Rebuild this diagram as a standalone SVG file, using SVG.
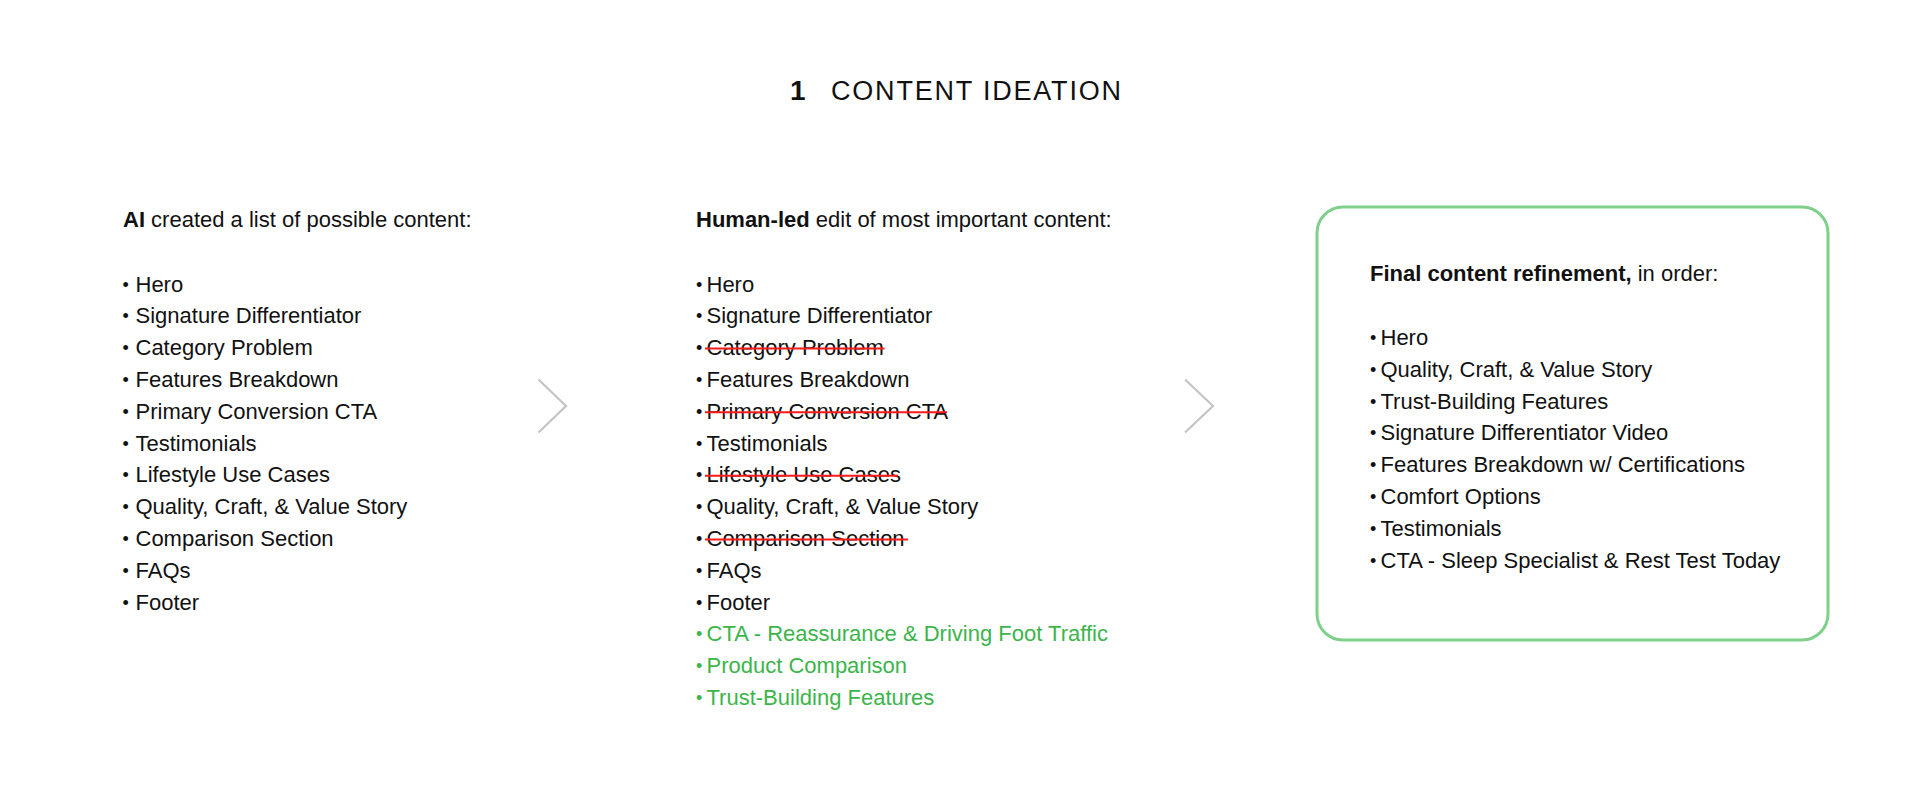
<svg xmlns="http://www.w3.org/2000/svg" width="1920" height="808" viewBox="0 0 1920 808">
  <style>
    text { font-family: "Liberation Sans", Arial, Helvetica, sans-serif; font-size: 22px; fill: #111111; }
    .b { font-weight: bold; }
    .bl { font-size: 18px; }
    .title { font-size: 27px; letter-spacing: 1.8px; }
    .titlenum { font-size: 28px; font-weight: bold; }
    .green { fill: #3cb54b; }
    .strike { stroke: #ff1a1a; stroke-width: 2; }
    .chev { fill: none; stroke: #c4c4c4; stroke-width: 2.2; }
    .box { fill: #ffffff; stroke: #7fd08a; stroke-width: 3; }
  </style>
  <rect width="1920" height="808" fill="#ffffff"/>

  <g id="title">
    <text class="titlenum" x="790" y="100">1</text>
    <text class="title" x="831" y="100">CONTENT IDEATION</text>
  </g>

  <g id="col-ai">
    <text x="123" y="227"><tspan class="b">AI</tspan> created a list of possible content:</text>
    <text x="122.5" y="291.5"><tspan class="bl" dy="-1">•</tspan><tspan x="135.5" dy="1">Hero</tspan></text>
    <text x="122.5" y="323.3"><tspan class="bl" dy="-1">•</tspan><tspan x="135.5" dy="1">Signature Differentiator</tspan></text>
    <text x="122.5" y="355.1"><tspan class="bl" dy="-1">•</tspan><tspan x="135.5" dy="1">Category Problem</tspan></text>
    <text x="122.5" y="386.9"><tspan class="bl" dy="-1">•</tspan><tspan x="135.5" dy="1">Features Breakdown</tspan></text>
    <text x="122.5" y="418.7"><tspan class="bl" dy="-1">•</tspan><tspan x="135.5" dy="1">Primary Conversion CTA</tspan></text>
    <text x="122.5" y="450.5"><tspan class="bl" dy="-1">•</tspan><tspan x="135.5" dy="1">Testimonials</tspan></text>
    <text x="122.5" y="482.3"><tspan class="bl" dy="-1">•</tspan><tspan x="135.5" dy="1">Lifestyle Use Cases</tspan></text>
    <text x="122.5" y="514.1"><tspan class="bl" dy="-1">•</tspan><tspan x="135.5" dy="1">Quality, Craft, &amp; Value Story</tspan></text>
    <text x="122.5" y="545.9"><tspan class="bl" dy="-1">•</tspan><tspan x="135.5" dy="1">Comparison Section</tspan></text>
    <text x="122.5" y="577.7"><tspan class="bl" dy="-1">•</tspan><tspan x="135.5" dy="1">FAQs</tspan></text>
    <text x="122.5" y="609.5"><tspan class="bl" dy="-1">•</tspan><tspan x="135.5" dy="1">Footer</tspan></text>
  </g>

  <g id="col-human">
    <text x="696" y="227"><tspan class="b">Human-led</tspan> edit of most important content:</text>
    <text x="696" y="291.5"><tspan class="bl" dy="-1">•</tspan><tspan x="706.5" dy="1">Hero</tspan></text>
    <text x="696" y="323.3"><tspan class="bl" dy="-1">•</tspan><tspan x="706.5" dy="1">Signature Differentiator</tspan></text>
    <text x="696" y="355.1"><tspan class="bl" dy="-1">•</tspan><tspan x="706.5" dy="1">Category Problem</tspan></text>
    <text x="696" y="386.9"><tspan class="bl" dy="-1">•</tspan><tspan x="706.5" dy="1">Features Breakdown</tspan></text>
    <text x="696" y="418.7"><tspan class="bl" dy="-1">•</tspan><tspan x="706.5" dy="1">Primary Conversion CTA</tspan></text>
    <text x="696" y="450.5"><tspan class="bl" dy="-1">•</tspan><tspan x="706.5" dy="1">Testimonials</tspan></text>
    <text x="696" y="482.3"><tspan class="bl" dy="-1">•</tspan><tspan x="706.5" dy="1">Lifestyle Use Cases</tspan></text>
    <text x="696" y="514.1"><tspan class="bl" dy="-1">•</tspan><tspan x="706.5" dy="1">Quality, Craft, &amp; Value Story</tspan></text>
    <text x="696" y="545.9"><tspan class="bl" dy="-1">•</tspan><tspan x="706.5" dy="1">Comparison Section</tspan></text>
    <text x="696" y="577.7"><tspan class="bl" dy="-1">•</tspan><tspan x="706.5" dy="1">FAQs</tspan></text>
    <text x="696" y="609.5"><tspan class="bl" dy="-1">•</tspan><tspan x="706.5" dy="1">Footer</tspan></text>
    <text class="green" x="696" y="641.3"><tspan class="bl" dy="-1">•</tspan><tspan x="706.5" dy="1">CTA - Reassurance &amp; Driving Foot Traffic</tspan></text>
    <text class="green" x="696" y="673.1"><tspan class="bl" dy="-1">•</tspan><tspan x="706.5" dy="1">Product Comparison</tspan></text>
    <text class="green" x="696" y="704.9"><tspan class="bl" dy="-1">•</tspan><tspan x="706.5" dy="1">Trust-Building Features</tspan></text>
    <line class="strike" x1="705" y1="348.6" x2="884.5" y2="348.6"/>
    <line class="strike" x1="705" y1="412.2" x2="947" y2="412.2"/>
    <line class="strike" x1="705" y1="475.8" x2="898" y2="475.8"/>
    <line class="strike" x1="705" y1="539.4" x2="908" y2="539.4"/>
  </g>

  <g id="col-final">
    <rect class="box" x="1317" y="207" width="511" height="433" rx="26" ry="26"/>
    <text x="1370" y="281"><tspan class="b">Final content refinement,</tspan> in order:</text>
    <text x="1370" y="345"><tspan class="bl" dy="-1">•</tspan><tspan x="1380.5" dy="1">Hero</tspan></text>
    <text x="1370" y="376.8"><tspan class="bl" dy="-1">•</tspan><tspan x="1380.5" dy="1">Quality, Craft, &amp; Value Story</tspan></text>
    <text x="1370" y="408.6"><tspan class="bl" dy="-1">•</tspan><tspan x="1380.5" dy="1">Trust-Building Features</tspan></text>
    <text x="1370" y="440.4"><tspan class="bl" dy="-1">•</tspan><tspan x="1380.5" dy="1">Signature Differentiator Video</tspan></text>
    <text x="1370" y="472.2"><tspan class="bl" dy="-1">•</tspan><tspan x="1380.5" dy="1">Features Breakdown w/ Certifications</tspan></text>
    <text x="1370" y="504"><tspan class="bl" dy="-1">•</tspan><tspan x="1380.5" dy="1">Comfort Options</tspan></text>
    <text x="1370" y="535.8"><tspan class="bl" dy="-1">•</tspan><tspan x="1380.5" dy="1">Testimonials</tspan></text>
    <text x="1370" y="567.6"><tspan class="bl" dy="-1">•</tspan><tspan x="1380.5" dy="1">CTA - Sleep Specialist &amp; Rest Test Today</tspan></text>
  </g>

  <g id="connectors">
    <polyline class="chev" points="538.5,379.5 566,406 538.5,432.5"/>
    <polyline class="chev" points="1185,379.5 1213,406 1185,432.5"/>
  </g>
</svg>
